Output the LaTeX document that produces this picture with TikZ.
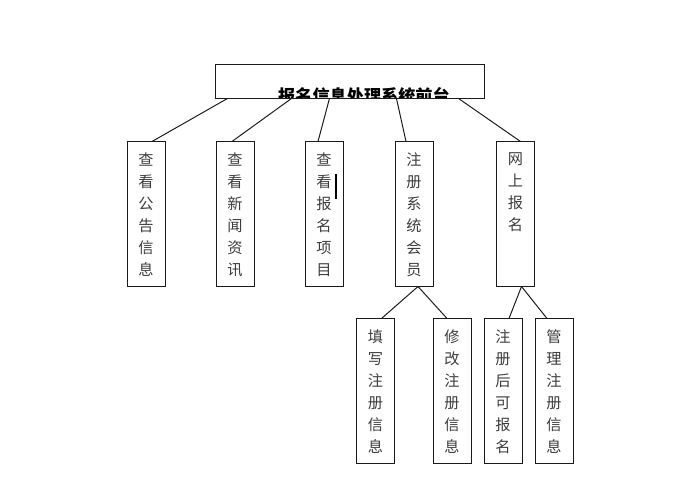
\documentclass[tikz,border=0pt]{standalone}
\usepackage{fontspec}
\usepackage{xcolor}
\usetikzlibrary{calc}
\newfontfamily\cjk{Noto Sans CJK SC}
\definecolor{boxline}{HTML}{1A1A1A}
\definecolor{boxtext}{HTML}{3C3C3C}
\newcommand{\vlist}[1]{\parbox[c][3.6cm][t]{0.95cm}{\centering\vspace*{0.27cm}\fontsize{10.8pt}{15.65pt}\selectfont #1}}

\begin{document}
\begin{tikzpicture}[
    x=0.025cm, y=-0.025cm,
    item/.style={draw=boxline,line width=0.7pt,inner sep=0pt,text=boxtext,font=\cjk},
    link/.style={draw=boxline,line width=0.7pt}
]
    \useasboundingbox (0,0) rectangle (692,478);
    % top box, its title cut off at the lower edge
    \node[draw=boxline,line width=0.7pt,minimum width=6.7cm,minimum height=0.825cm,inner sep=0pt,
        path picture={\node[font=\cjk\bfseries\fontsize{12.2pt}{14pt}\selectfont] at ($(path picture bounding box.center)+(14,14.5)$) {报名信息处理系统前台};}]
        (top) at (350,81.5) {};
    % first level
    \node[item] (gonggao) at (146,214) {\vlist{查\\看\\公\\告\\信\\息}};
    \node[item] (xinwen) at (235,214) {\vlist{查\\看\\新\\闻\\资\\讯}};
    \node[item] (xiangmu) at (324,214) {\vlist{查\\看\\报\\名\\项\\目}};
    \node[item] (huiyuan) at (414,214) {\vlist{注\\册\\系\\统\\会\\员}};
    \node[item] (baoming) at (515.5,214) {\vlist{网\\上\\报\\名}};
    % second level
    \node[item] (tianxie) at (375.5,391) {\vlist{填\\写\\注\\册\\信\\息}};
    \node[item] (xiugai) at (452,391) {\vlist{修\\改\\注\\册\\信\\息}};
    \node[item] (kebao) at (503,391) {\vlist{注\\册\\后\\可\\报\\名}};
    \node[item] (guanli) at (554,391) {\vlist{管\\理\\注\\册\\信\\息}};

    \draw[link] ($(top.south west)+(12,0)$) -- ($(gonggao.north)+(6,0)$);
    \draw[link] ($(top.south west)+(76,0)$) -- ($(xinwen.north)+(-3,0)$);
    \draw[link] ($(top.south west)+(114,0)$) -- ($(xiangmu.north)+(-6,0)$);
    \draw[link] ($(top.south west)+(181,0)$) -- ($(huiyuan.north)+(-8,0)$);
    \draw[link] ($(top.south east)+(-26,0)$) -- ($(baoming.north)+(5,0)$);
    \draw[link] ($(huiyuan.south)+(4,0)$) -- ($(tianxie.north)+(6,0)$);
    \draw[link] ($(huiyuan.south)+(4,0)$) -- ($(xiugai.north)+(-5,0)$);
    \draw[link] ($(baoming.south)+(6,0)$) -- ($(kebao.north)+(6,0)$);
    \draw[link] ($(baoming.south)+(6,0)$) -- ($(guanli.north)+(-7,0)$);
    % stray bar beside the third box
    \draw[line width=1.4pt] ($(xiangmu.north)+(12,33)$) -- ($(xiangmu.north)+(12,58)$);
\end{tikzpicture}
\end{document}
